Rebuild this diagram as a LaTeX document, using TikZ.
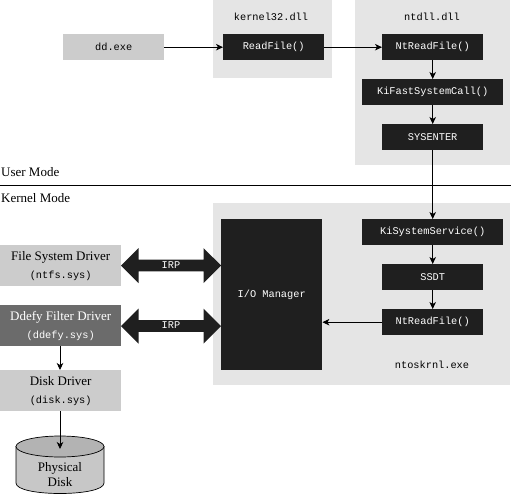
\documentclass[tikz,border=0pt]{standalone}
\usepackage{fontspec}
\setmainfont{Liberation Serif}
\setmonofont{Liberation Mono}
\usetikzlibrary{arrows.meta,shapes.arrows,shapes.geometric}
\definecolor{regiongray}{gray}{0.90}
\definecolor{drvgray}{gray}{0.80}
\definecolor{darkdrv}{gray}{0.42}
\definecolor{boxblack}{gray}{0.12}
\definecolor{cylgray}{gray}{0.78}
\tikzset{
  x=1pt,y=-1pt,
  region/.style={fill=regiongray,draw=none},
  blackbox/.style={fill=boxblack,text=white,font=\fontsize{10.3}{12}\ttfamily,inner sep=0pt,anchor=north west},
  drv/.style={fill=drvgray,inner sep=0pt,anchor=north west,minimum width=121pt,minimum height=41pt,align=center,font=\fontsize{13}{18}\selectfont},
  mono/.style={font=\fontsize{10.3}{12}\ttfamily},
  flow/.style={draw=black,line width=0.8pt,-{Stealth[length=7pt,width=6.5pt,inset=2pt]}},
  bigarrow/.style={double arrow,fill=boxblack,text=white,minimum height=100pt,minimum width=35pt,
    double arrow head extend=9pt,inner sep=0pt,
    font=\fontsize{10.3}{12}\ttfamily,text height=7pt,text depth=1.5pt,text width=30pt,align=center},
  modelabel/.style={font=\fontsize{13}{15}\selectfont,anchor=west,inner sep=0pt}
}
\begin{document}
\begin{tikzpicture}
\useasboundingbox (0,0) rectangle (511,495);
% regions
\fill[region] (213,0) rectangle (332,78);
\fill[region] (355,0) rectangle (510,165);
\fill[region] (213,203) rectangle (510,385);
% mode line
\coordinate (ml) at (0,185); \coordinate (mr) at (511,185);
\draw[line width=0.8pt] (ml) -- (mr);
\node[modelabel] (um) at (1,172) {User Mode};
\node[modelabel] (km) at (1,198) {Kernel Mode};
% labels
\node[mono] (k32) at (271,17) {kernel32.dll};
\node[mono] (nt) at (432,17) {ntdll.dll};
\node[mono] (nto) at (432,365) {ntoskrnl.exe};
% boxes
\node[fill=drvgray,anchor=north west,inner sep=0pt,minimum width=101pt,minimum height=26pt,mono] (dd) at (63,34) {dd.exe};
\node[blackbox,minimum width=101pt,minimum height=26pt] (rf) at (223,34) {ReadFile()};
\node[blackbox,minimum width=101pt,minimum height=26pt] (ntrf) at (382,34) {NtReadFile()};
\node[blackbox,minimum width=141pt,minimum height=26pt] (kifast) at (362,79) {KiFastSystemCall()};
\node[blackbox,minimum width=101pt,minimum height=26pt] (sys) at (382,124) {SYSENTER};
\node[blackbox,minimum width=141pt,minimum height=26pt] (kisvc) at (362,219) {KiSystemService()};
\node[blackbox,minimum width=101pt,minimum height=26pt] (ssdt) at (382,264) {SSDT};
\node[blackbox,minimum width=101pt,minimum height=26pt] (ntrf2) at (382,309) {NtReadFile()};
\node[blackbox,minimum width=101pt,minimum height=151pt] (io) at (221,219) {I/O Manager};
% drivers
\node[drv] (fs) at (0,245) {File System Driver\\{\fontsize{10.3}{12}\ttfamily (ntfs.sys)}};
\node[drv,fill=darkdrv,text=white] (ddefy) at (0,305) {Ddefy Filter Driver\\{\fontsize{10.3}{12}\ttfamily (ddefy.sys)}};
\node[drv] (disk) at (0,370) {Disk Driver\\{\fontsize{10.3}{12}\ttfamily (disk.sys)}};
% cylinder
\path[draw=black,line width=0.7pt,fill=cylgray] (16,446.5) -- (16,483)
  .. controls (16,497) and (104,497) .. (104,483) -- (104,446.5) -- cycle;
\draw[line width=0.7pt,fill=cylgray!90!black] (60,446.5) ellipse [x radius=44pt,y radius=10.5pt];
\node[align=center,inner sep=0pt,font=\fontsize{13}{15}\selectfont] (pdl) at (60,475) {Physical\\Disk};
% IRP arrows
\node[bigarrow] (irp1) at (171,265.5) {IRP};
\node[bigarrow] (irp2) at (171,326) {IRP};
% connectors
\coordinate (tap) at (60,449);
\draw[flow] (dd) -- (rf);
\draw[flow] (rf) -- (ntrf);
\draw[flow] (ntrf) -- (ntrf |- kifast.north);
\draw[flow] (kifast.south -| sys) -- (sys);
\draw[flow] (sys) -- (kisvc);
\draw[flow] (kisvc.south -| ssdt) -- (ssdt);
\draw[flow] (ssdt) -- (ntrf2);
\draw[flow] (ntrf2.west) -- (ntrf2.west -| io.east);
\draw[flow] (ddefy.south -| tap) -- (disk.north -| tap);
\draw[flow] (disk.south -| tap) -- (tap);
\end{tikzpicture}
\end{document}
